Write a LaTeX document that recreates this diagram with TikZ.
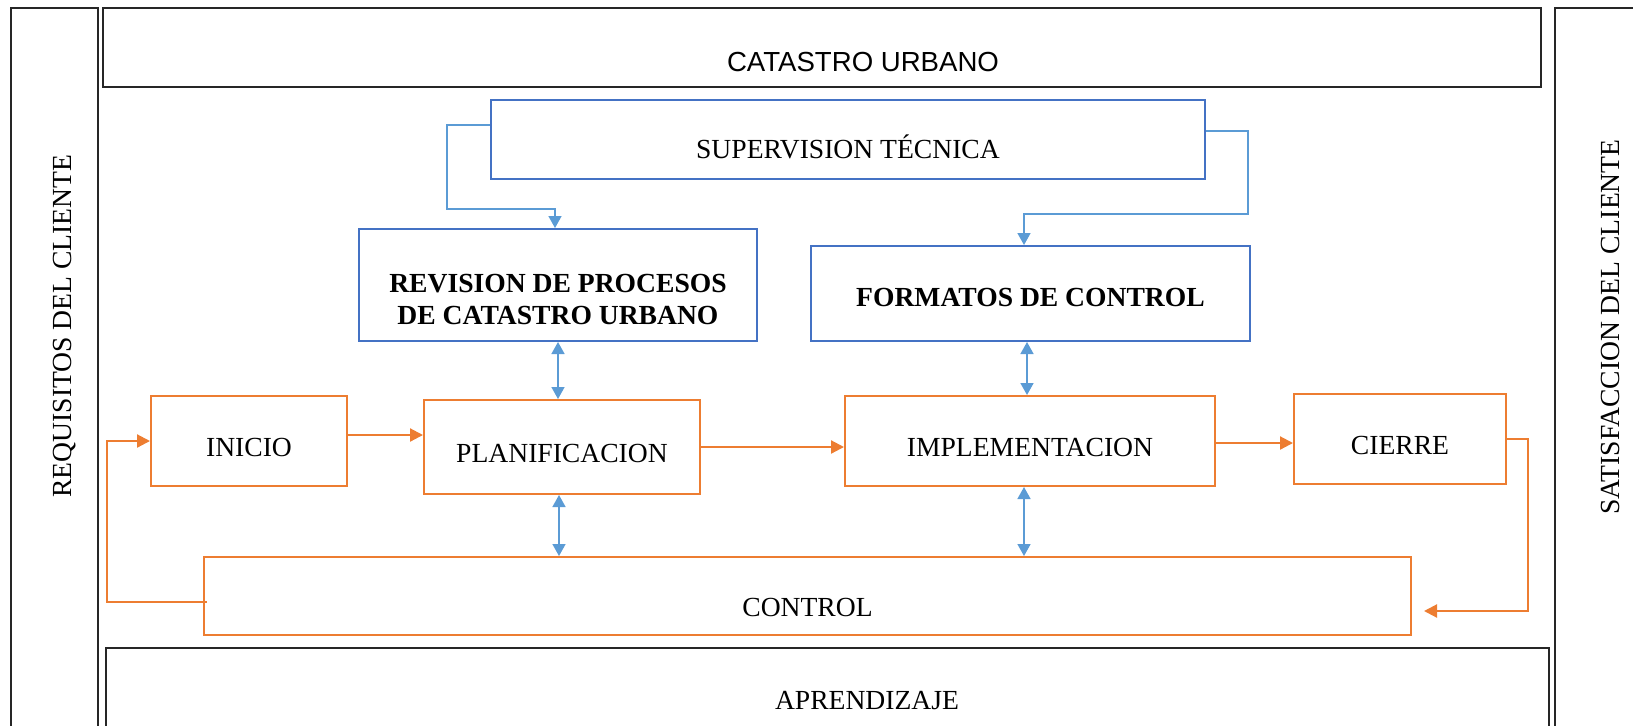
\documentclass[tikz,border=0pt]{standalone}
\usepackage{fontspec}
\setmainfont{Liberation Serif}
\setsansfont{Liberation Sans}
\usetikzlibrary{arrows.meta}
\definecolor{boxblue}{HTML}{4472C4}
\definecolor{lineblue}{HTML}{5B9BD5}
\definecolor{flowor}{HTML}{ED7D31}
\newcommand{\fsize}{\fontsize{13.8}{16}\selectfont}

\begin{document}
\begin{tikzpicture}[x=0.5pt,y=-0.5pt,font=\fsize]
\useasboundingbox (0,0) rectangle (1633,725);
\clip (0,0) rectangle (1633,725);

\begin{scope}[every node/.style={draw=black!85,line width=1.1pt,inner sep=0pt}]
    \node[minimum width=43.5pt,minimum height=396pt] (Req) at (54.5,404) {};
    \node[minimum width=72.5pt,minimum height=396pt] (Sat) at (1627.5,404) {};
    \node[minimum width=719pt,minimum height=39.5pt] (Cat) at (822,47.5) {};
    \node[minimum width=721.5pt,minimum height=76pt] (Apr) at (827.5,724) {};
    \end{scope}

\node[rotate=90] (ReqText) at (65,326) {REQUISITOS DEL CLIENTE};
\node[rotate=90] (SatText) at (1610,327) {SATISFACCION DEL CLIENTE};
\node[font=\sffamily\fsize] (CatText) at (863,62) {CATASTRO URBANO};
\node (AprText) at (867,701) {APRENDIZAJE};

\begin{scope}[every node/.style={draw=boxblue,line width=1pt,text depth=0pt}]
    \node[minimum width=357pt,minimum height=39.5pt,text height=19pt] (Sup) at (848,139.5) {SUPERVISION T\'ECNICA};
    \node[minimum width=199pt,minimum height=56pt] (Rev) at (558,285) {};
    \node[minimum width=219.5pt,minimum height=47.5pt,text height=13pt,font=\fsize\bfseries] (Form) at (1030.5,293.5) {FORMATOS DE CONTROL};
    \end{scope}
\node[align=center,font=\fsize\bfseries] (RevText) at (558,299) {REVISION DE PROCESOS\\DE CATASTRO URBANO};

\begin{scope}[every node/.style={draw=flowor,line width=1pt,text height=15pt,text depth=0pt}]
    \node[minimum width=98pt,minimum height=45pt] (Inicio) at (249,441) {INICIO};
    \node[minimum width=138pt,minimum height=47pt] (Planif) at (562,447) {PLANIFICACION};
    \node[minimum width=185pt,minimum height=45pt] (Implem) at (1030,441) {IMPLEMENTACION};
    \node[minimum width=106pt,minimum height=45pt] (Cierre) at (1400,439) {CIERRE};
    \node[minimum width=603.5pt,minimum height=39pt,text height=20pt] (Control) at (807.5,596) {CONTROL};
    \end{scope}

\begin{scope}[>={Triangle[length=6.5pt,width=6.5pt]},line width=1.1pt]
    \draw[flowor,->] ([yshift=3pt]Inicio.east) -- ([yshift=3pt]Inicio.east -| Planif.west);
    \draw[flowor,->] (Planif.east) -- (Planif.east -| Implem.west);
    \draw[flowor,->] ([yshift=-1pt]Implem.east) -- ([yshift=-1pt]Implem.east -| Cierre.west);
    \draw[flowor,->,shorten >=6pt] (Cierre.east) -- ++(21,0) |- ([yshift=-7.5pt]Control.east);
    \draw[flowor,->] ([xshift=2pt,yshift=-3pt]Control.west) -- ++(-100,0) |- (Inicio.west);
    \end{scope}

\begin{scope}[>={Triangle[length=6pt,width=6.5pt]},line width=0.8pt,lineblue]
    \draw[->] ([yshift=7.25pt]Sup.west) -- ++(-43,0) -- ++(0,84) -| ([xshift=-1.5pt]Rev.north);
    \draw[->] ([yshift=4.25pt]Sup.east) -- ++(42,0) -- ++(0,83) -| ([xshift=-3.25pt]Form.north);
    \draw[<->] (Rev.south) -- (Rev.south |- Planif.north);
    \draw[<->] ([xshift=-1.75pt]Form.south) -- ([xshift=-1.75pt]Form.south |- Implem.north);
    \draw[<->] ([xshift=-1.5pt]Planif.south) -- ([xshift=-1.5pt]Planif.south |- Control.north);
    \draw[<->] ([xshift=-3pt]Implem.south) -- ([xshift=-3pt]Implem.south |- Control.north);
    \end{scope}

\end{tikzpicture}
\end{document}
